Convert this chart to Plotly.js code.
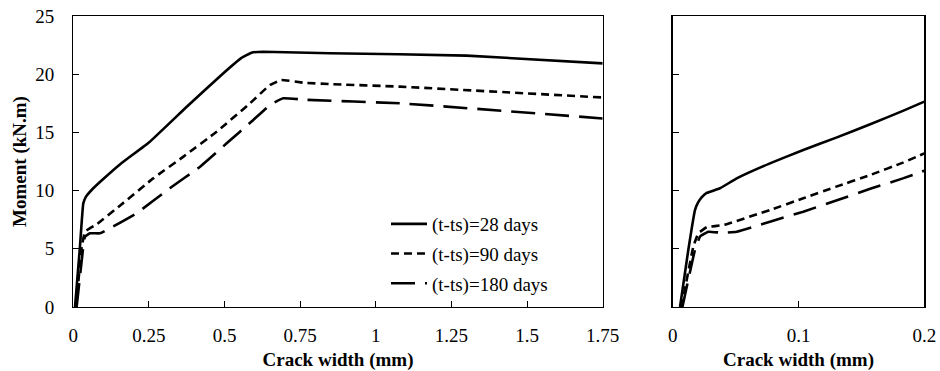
<!DOCTYPE html>
<html>
<head>
<meta charset="utf-8">
<script src="https://cdn.plot.ly/plotly-3.0.1.min.js"></script>
<style>html,body{margin:0;padding:0;background:#fff;}#chart{width:940px;height:371px;}</style>
</head>
<body>
<div id="chart"></div>
<script>
// Series names
const seriesNames = ["(t-ts)=28 days", "(t-ts)=90 days", "(t-ts)=180 days"];

// Left panel (full range) - crack width (mm) and moment (kN.m)
const leftW28 = [0.0056, 0.022, 0.033, 0.042, 0.066, 0.099, 0.154, 0.253, 0.375, 0.496, 0.556, 0.589, 0.628, 0.848, 1.30, 1.75];
const leftM28 = [0, 5.18, 8.9, 9.48, 10.2, 11.0, 12.25, 14.2, 17.2, 20.08, 21.4, 21.85, 21.93, 21.8, 21.6, 20.93];

const leftW90 = [0.009, 0.028, 0.0387, 0.077, 0.154, 0.264, 0.363, 0.474, 0.584, 0.650, 0.688, 0.760, 0.848, 1.08, 1.75];
const leftM90 = [0, 5.18, 6.47, 7.1, 8.7, 11.05, 12.9, 15.06, 17.5, 19.07, 19.5, 19.27, 19.15, 18.93, 18.0];

const leftW180 = [0.011, 0.033, 0.0387, 0.055, 0.088, 0.121, 0.209, 0.319, 0.419, 0.507, 0.595, 0.650, 0.694, 0.771, 1.08, 1.75];
const leftM180 = [0, 5.18, 6.04, 6.33, 6.33, 6.76, 8.05, 10.2, 12.05, 14.06, 16.07, 17.35, 17.93, 17.8, 17.5, 16.2];

// Right panel (zoom on small crack widths)
const rightW28 = [0.0058, 0.0124, 0.0177, 0.020, 0.023, 0.027, 0.0376, 0.0509, 0.0773, 0.1038, 0.130, 0.157, 0.183, 0.2];
const rightM28 = [0, 4.9, 8.33, 8.95, 9.42, 9.8, 10.2, 11.05, 12.34, 13.49, 14.55, 15.7, 16.85, 17.64];

const rightW90 = [0.007, 0.0164, 0.0204, 0.027, 0.0402, 0.0773, 0.1038, 0.130, 0.157, 0.183, 0.2];
const rightM90 = [0, 5.18, 6.33, 6.85, 7.04, 8.33, 9.34, 10.34, 11.34, 12.4, 13.2];

const rightW180 = [0.0077, 0.0177, 0.0217, 0.0283, 0.039, 0.0509, 0.0773, 0.1038, 0.130, 0.157, 0.183, 0.2];
const rightM180 = [0, 4.9, 6.04, 6.47, 6.38, 6.47, 7.33, 8.19, 9.15, 10.15, 11.05, 11.71];

// Axis ticks
const leftXTicks = [0, 0.25, 0.5, 0.75, 1, 1.25, 1.5, 1.75];
const leftXTickText = ["0", "0.25", "0.5", "0.75", "1", "1.25", "1.5", "1.75"];
const rightXTicks = [0, 0.1, 0.2];
const rightXTickText = ["0", "0.1", "0.2"];
const yTicks = [0, 5, 10, 15, 20, 25];

const dashes = ["solid", "8px,5px", "24px,10px"];
const W = 940, H = 371;
const serif = "Liberation Serif";

const lw = 2.6;
const traces = [];
const leftW = [leftW28, leftW90, leftW180], leftM = [leftM28, leftM90, leftM180];
const rightW = [rightW28, rightW90, rightW180], rightM = [rightM28, rightM90, rightM180];
for (let i = 0; i < 3; i++) {
  traces.push({x: leftW[i], y: leftM[i], xaxis: 'x', yaxis: 'y', mode: 'lines', name: seriesNames[i],
    legendgroup: 'g' + i, line: {color: '#000', width: lw, dash: dashes[i], shape: 'spline', smoothing: 0.3}});
}
for (let i = 0; i < 3; i++) {
  traces.push({x: rightW[i], y: rightM[i], xaxis: 'x2', yaxis: 'y2', mode: 'lines', name: seriesNames[i],
    showlegend: false, line: {color: '#000', width: lw, dash: dashes[i], shape: 'spline', smoothing: 0.3}});
}

const axBase = {
  showline: true, mirror: true, linecolor: '#000', linewidth: 1.3,
  ticks: 'inside', ticklen: 6, tickwidth: 1, tickcolor: '#000',
  showgrid: false, zeroline: false,
  tickfont: {family: serif, size: 19, color: '#000'}
};
const titleFont = {family: serif, size: 19, color: '#000', weight: 'bold'};

const yTop = 1 - 16 / H, yBot = 1 - 307 / H;

const layout = {
  width: W, height: H,
  margin: {l: 0, r: 0, t: 0, b: 0},
  paper_bgcolor: '#fff', plot_bgcolor: '#fff',
  showlegend: true,
  legend: {x: 386 / W, xanchor: 'left', y: 1 - 205 / H, yanchor: 'top',
    font: {family: serif, size: 19, color: '#000'}, bgcolor: 'rgba(0,0,0,0)',
    tracegroupgap: 2, itemwidth: 36},
  xaxis: Object.assign({}, axBase, {domain: [73.3 / W, 602.7 / W], range: [0, 1.75],
    tickvals: leftXTicks, ticktext: leftXTickText, anchor: 'y', ticklabelstandoff: 11,
    title: {text: '<b>Crack width (mm)</b>', font: titleFont, standoff: 9}}),
  yaxis: Object.assign({}, axBase, {domain: [yBot, yTop], range: [0, 25],
    tickvals: yTicks, anchor: 'x', ticklabelstandoff: 14,
    title: {text: '<b>Moment (kN.m)</b>', font: titleFont, standoff: 3}}),
  xaxis2: Object.assign({}, axBase, {domain: [672.7 / W, 924.3 / W], range: [0, 0.2],
    tickvals: rightXTicks, ticktext: rightXTickText, anchor: 'y2', ticklabelstandoff: 11,
    title: {text: '<b>Crack width (mm)</b>', font: titleFont, standoff: 9}}),
  yaxis2: Object.assign({}, axBase, {domain: [yBot, yTop], range: [0, 25],
    tickvals: yTicks, anchor: 'x2', showticklabels: false})
};

Plotly.newPlot('chart', traces, layout, {staticPlot: true, displayModeBar: false});
</script>
</body>
</html>
